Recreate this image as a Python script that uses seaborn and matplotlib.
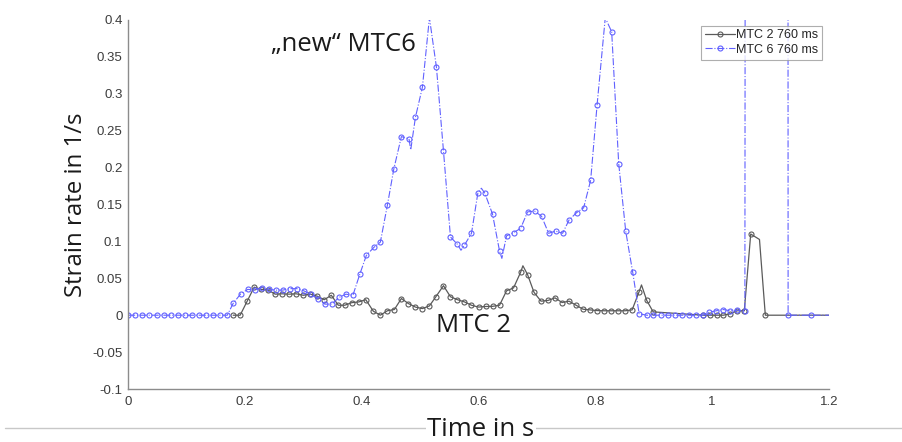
import numpy as np
import pandas as pd
import matplotlib
matplotlib.use("Agg")
import matplotlib.pyplot as plt
from matplotlib.lines import Line2D
import seaborn as sns

# ---------------- data ----------------
# MTC 6 (blue) – sample points carrying markers
mtc6_t = [0.000, 0.012, 0.024, 0.036, 0.049, 0.061, 0.073, 0.085, 0.097, 0.109,
          0.121, 0.133, 0.146, 0.158, 0.170,
          0.180, 0.193, 0.205, 0.217, 0.229, 0.241, 0.253, 0.265, 0.277, 0.289,
          0.301, 0.313, 0.325, 0.337, 0.349, 0.361, 0.373, 0.385, 0.397, 0.408,
          0.421, 0.432, 0.444, 0.455, 0.468, 0.481, 0.492, 0.504, 0.528, 0.540,
          0.552, 0.564, 0.576, 0.588, 0.599, 0.611, 0.624, 0.636, 0.648, 0.660,
          0.672, 0.684, 0.696, 0.708, 0.720, 0.732, 0.744, 0.755, 0.768, 0.780,
          0.792, 0.803, 0.828, 0.840, 0.852, 0.864, 0.875, 0.888, 0.899, 0.912,
          0.924, 0.936, 0.948, 0.960, 0.972, 0.984, 0.995, 1.007, 1.019, 1.031,
          1.043, 1.056, 1.130, 1.170]
mtc6_v = [0.0, 0.0, 0.0, 0.0, 0.0, 0.0, 0.0, 0.0, 0.0, 0.0,
          0.0, 0.0, 0.0, 0.0, 0.0,
          0.016, 0.029, 0.035, 0.034, 0.0375, 0.035, 0.034, 0.034, 0.036, 0.036,
          0.033, 0.0285, 0.0226, 0.015, 0.015, 0.024, 0.0285, 0.027, 0.056, 0.081,
          0.092, 0.099, 0.149, 0.198, 0.242, 0.239, 0.268, 0.309, 0.336, 0.223,
          0.106, 0.096, 0.095, 0.111, 0.166, 0.165, 0.137, 0.087, 0.1075, 0.112,
          0.1175, 0.140, 0.141, 0.134, 0.111, 0.114, 0.111, 0.129, 0.139, 0.1455,
          0.183, 0.285, 0.384, 0.2055, 0.114, 0.058, 0.002, 0.0, 0.0, 0.0,
          0.0, 0.0, 0.0, 0.0, 0.0, 0.0, 0.004, 0.006, 0.0077, 0.006,
          0.0068, 0.006, 0.0, 0.0]
# MTC 6 – line-only points (peaks between samples, off-scale spike, end)
mtc6_extra_t = [0.484, 0.516, 0.570, 0.605, 0.640, 0.817, 1.059, 1.129, 1.200]
mtc6_extra_v = [0.224, 0.403, 0.088, 0.172, 0.077, 0.403, 3.0, 3.0, 0.0]

# MTC 2 (black) – sample points carrying markers
mtc2_t = [0.180, 0.192, 0.204, 0.216, 0.228, 0.240, 0.252, 0.264, 0.276, 0.288,
          0.300, 0.312, 0.324, 0.336, 0.348, 0.360, 0.371, 0.383, 0.395, 0.407,
          0.420, 0.432, 0.444, 0.456, 0.468, 0.480, 0.492, 0.504, 0.516, 0.527,
          0.540, 0.552, 0.564, 0.576, 0.588, 0.600, 0.612, 0.624, 0.636, 0.648,
          0.660, 0.672, 0.684, 0.695, 0.707, 0.719, 0.731, 0.743, 0.755, 0.767,
          0.779, 0.791, 0.803, 0.815, 0.827, 0.839, 0.851, 0.863, 0.875, 0.888,
          0.899, 0.985, 0.996, 1.008, 1.019, 1.031, 1.043, 1.055, 1.066, 1.091]
mtc2_v = [0.0, 0.0, 0.019, 0.038, 0.035, 0.034, 0.0285, 0.029, 0.0285, 0.029,
          0.027, 0.0285, 0.0257, 0.021, 0.027, 0.0135, 0.0135, 0.017, 0.018, 0.021,
          0.0054, 0.0, 0.006, 0.0077, 0.0226, 0.0158, 0.011, 0.009, 0.0126, 0.025,
          0.040, 0.025, 0.021, 0.018, 0.0135, 0.011, 0.0118, 0.012, 0.0135, 0.033,
          0.037, 0.058, 0.055, 0.031, 0.019, 0.020, 0.0235, 0.0172, 0.019, 0.0135,
          0.0081, 0.0072, 0.0063, 0.006, 0.006, 0.006, 0.006, 0.0072, 0.032, 0.020,
          0.0045, 0.0, 0.0, 0.0, 0.0, 0.002, 0.006, 0.006, 0.110, 0.0]
# MTC 2 – line-only points
mtc2_extra_t = [0.676, 0.879, 1.081, 1.200]
mtc2_extra_v = [0.067, 0.041, 0.1026, 0.0]

series_labels = ["MTC 2 760 ms", "MTC 6 760 ms"]
annot_texts = ["\u201enew\u201c MTC6", "MTC 2"]
x_ticks = [0, 0.2, 0.4, 0.6, 0.8, 1, 1.2]
y_ticks = [-0.1, -0.05, 0, 0.05, 0.1, 0.15, 0.2, 0.25, 0.3, 0.35, 0.4]
x_label = "Time in s"
y_label = "Strain rate in 1/s"


def merged(t, v, et, ev):
    df = pd.DataFrame({"t": list(t) + list(et), "v": list(v) + list(ev),
                       "marked": [True] * len(t) + [False] * len(et)})
    df = df.sort_values("t", kind="stable").reset_index(drop=True)
    return df


sns.set_theme(style="white")
plt.rcParams["font.family"] = ["Liberation Sans", "DejaVu Sans"]

fig = plt.figure(figsize=(9.02, 4.42), dpi=100)
ax = fig.add_axes([128 / 902, 1 - 389 / 442, 701 / 902, 369 / 442])

black = "#5a5a5a"
blue = "#6161ff"

d2 = merged(mtc2_t, mtc2_v, mtc2_extra_t, mtc2_extra_v)
d6 = merged(mtc6_t, mtc6_v, mtc6_extra_t, mtc6_extra_v)

sns.lineplot(data=d2, x="t", y="v", ax=ax, sort=False, estimator=None,
             color=black, linewidth=0.9, linestyle="-", marker="o",
             markersize=3.6, markerfacecolor="none", markeredgecolor=black,
             markeredgewidth=0.8,
             markevery=list(np.flatnonzero(d2["marked"].values)),
             label=series_labels[0])
sns.lineplot(data=d6, x="t", y="v", ax=ax, sort=False, estimator=None,
             color=blue, linewidth=0.8, linestyle="-.", marker="o",
             markersize=3.6, markerfacecolor="none", markeredgecolor=blue,
             markeredgewidth=0.8,
             markevery=list(np.flatnonzero(d6["marked"].values)),
             label=series_labels[1])

ax.set_xlim(0, 1.2)
ax.set_ylim(-0.1, 0.4)
ax.set_xticks(x_ticks)
ax.set_xticklabels([f"{t:g}" for t in x_ticks])
ax.set_yticks(y_ticks)
ax.set_yticklabels([f"{t:g}" for t in y_ticks])

axis_col = "#8c8c8c"
for s in ["top", "right"]:
    ax.spines[s].set_visible(False)
for s in ["left", "bottom"]:
    ax.spines[s].set_color(axis_col)
    ax.spines[s].set_linewidth(1.0)
ax.tick_params(axis="both", direction="in", length=5, width=0.8,
               color=axis_col, labelcolor="#3c3c3c", labelsize=9.5)
ax.tick_params(axis="x", pad=5)
ax.tick_params(axis="y", pad=4)

ax.set_xlabel("")
ax.set_ylabel(y_label, fontsize=17.3, family=["Open Sans", "DejaVu Sans"],
              color="#1a1a1a", labelpad=3)

leg = ax.legend(loc="upper right", bbox_to_anchor=(0.99, 0.985),
                fontsize=9, frameon=True, fancybox=False, borderpad=0.3,
                handlelength=2.4, handletextpad=0.1, labelspacing=0.2,
                borderaxespad=0.0)
leg.get_frame().set_edgecolor("#9a9a9a")
leg.get_frame().set_linewidth(0.8)

ax.text(271 / 902, 1 - 44 / 442, annot_texts[0], transform=fig.transFigure,
        fontsize=18.5, family=["Open Sans", "DejaVu Sans"], color="#1a1a1a",
        ha="left", va="center")
ax.text(436 / 902, 1 - 326 / 442, annot_texts[1], transform=fig.transFigure,
        fontsize=18.5, family=["Open Sans", "DejaVu Sans"], color="#1a1a1a",
        ha="left", va="center")

# bottom text-box line and the x-axis title
fig.add_artist(Line2D([0.005, 1.0], [1 - 428 / 442] * 2, color="#c8c8c8",
                      linewidth=1.0, transform=fig.transFigure))
fig.add_artist(Line2D([429 / 902] * 2, [0, 1 - 428 / 442], color="#c8c8c8",
                      linewidth=1.0, transform=fig.transFigure))
fig.text(481 / 902, 1 - 430 / 442, x_label, fontsize=18.5,
         family=["Open Sans", "DejaVu Sans"], color="#1a1a1a",
         ha="center", va="center",
         bbox=dict(facecolor="white", edgecolor="none", pad=1.0))

fig.savefig("out.png", dpi=100)
